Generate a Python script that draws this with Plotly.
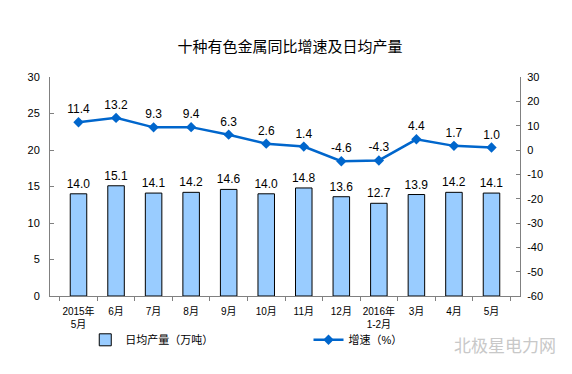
import plotly.graph_objects as go

categories = ["2015年<br>5月", "6月", "7月", "8月", "9月", "10月", "11月", "12月",
              "2016年<br>1-2月", "3月", "4月", "5月"]
daily_output = [14.0, 15.1, 14.1, 14.2, 14.6, 14.0, 14.8, 13.6, 12.7, 13.9, 14.2, 14.1]
growth = [11.4, 13.2, 9.3, 9.4, 6.3, 2.6, 1.4, -4.6, -4.3, 4.4, 1.7, 1.0]
left_ticks = [0, 5, 10, 15, 20, 25, 30]
right_ticks = [-60, -50, -40, -30, -20, -10, 0, 10, 20, 30]

font_cjk = "Liberation Sans, Noto Sans CJK SC, sans-serif"
font_num = "Liberation Sans, Arial, sans-serif"

fig = go.Figure()
fig.add_trace(go.Bar(
    x=categories, y=daily_output, name="日均产量（万吨）",
    marker=dict(color="#99CCFF", line=dict(color="#000000", width=1)),
    text=[f"{v:.1f}" for v in daily_output], textposition="outside",
    textangle=0, constraintext="none",
    textfont=dict(size=12, color="#000000", family=font_num),
    cliponaxis=False, legend="legend",
))
fig.add_trace(go.Scatter(
    x=categories, y=growth, name="增速（%）", yaxis="y2",
    mode="lines+markers+text",
    line=dict(color="#0066CC", width=2.5),
    marker=dict(symbol="diamond", size=8, color="#0066CC"),
    text=[f"{v:.1f}" for v in growth], textposition="top center",
    textfont=dict(size=12, color="#000000", family=font_num),
    cliponaxis=False, legend="legend2",
))

legend_common = dict(orientation="h", yanchor="middle", xanchor="left",
                     font=dict(size=11, color="#000000", family=font_cjk),
                     bgcolor="rgba(0,0,0,0)")

fig.update_layout(
    width=564, height=366,
    paper_bgcolor="white", plot_bgcolor="white",
    margin=dict(l=42, r=52, t=69, b=78, autoexpand=False),
    title=dict(text="十种有色金属同比增速及日均产量", x=0.5, xanchor="center",
               y=0.893, yanchor="middle",
               font=dict(size=15, color="#000000", family="Noto Sans CJK SC")),
    bargap=0.56,
    showlegend=True,
    legend=dict(x=0.075, y=-0.2, **legend_common),
    legend2=dict(x=0.55, y=-0.2, **legend_common),
    xaxis=dict(showline=True, linecolor="#808080", linewidth=1,
               ticks="outside", ticklen=4, tickcolor="#808080",
               tickson="boundaries", showgrid=False, tickangle=0,
               automargin=False, ticklabelstandoff=6,
               tickfont=dict(size=10, color="#000000", family=font_cjk)),
    yaxis=dict(range=[0, 30], tickvals=left_ticks,
               ticktext=[str(v) for v in left_ticks],
               showline=True, linecolor="#808080", automargin=False,
               linewidth=1, ticks="inside", ticklen=4, tickcolor="#808080",
               showgrid=False, zeroline=False, ticklabelstandoff=7,
               tickfont=dict(size=11, color="#000000", family=font_num)),
    yaxis2=dict(range=[-60, 30], tickvals=right_ticks,
                ticktext=[str(v) for v in right_ticks],
                overlaying="y", side="right", automargin=False,
                showline=True, linecolor="#808080", linewidth=1,
                ticks="inside", ticklen=4, tickcolor="#808080",
                showgrid=False, zeroline=False, ticklabelstandoff=4,
                tickfont=dict(size=11, color="#000000", family=font_num)),
    annotations=[dict(text="北极星电力网", xref="paper", yref="paper",
                      x=1.08, y=-0.22, xanchor="right", yanchor="middle",
                      showarrow=False,
                      font=dict(size=17, color="#C8C8C8", family="Noto Sans CJK SC"))],
)

fig.write_html("out.html")
